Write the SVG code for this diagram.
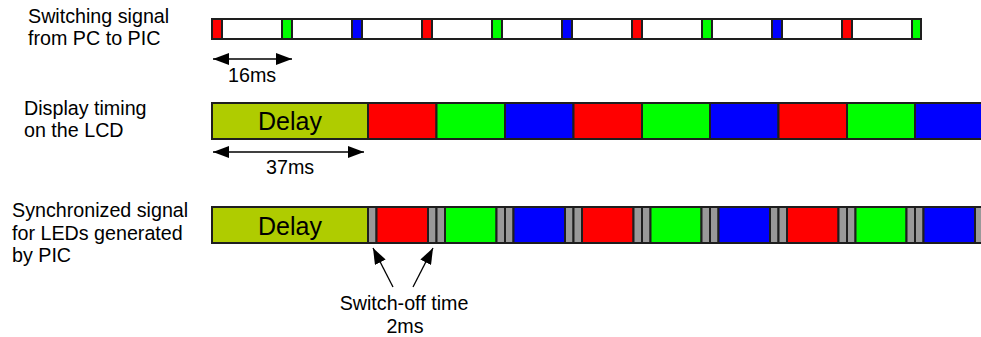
<svg xmlns="http://www.w3.org/2000/svg" width="981" height="337" viewBox="0 0 981 337">
<style>
text{font-family:"Liberation Sans",Arial,sans-serif;fill:#000}
.lbl{font-size:19.7px}
.dl{font-size:25px;text-anchor:middle}
.c{text-anchor:middle}
rect{stroke:#1e1e1e;stroke-width:2}
.w{fill:#fff}.r{fill:#f00}.g{fill:#0f0}.b{fill:#00f}.y{fill:#afcc00}.k{fill:#999}
.ln{stroke:#000;stroke-width:1.3;fill:none}
</style>
<defs>
<marker id="ah" viewBox="0 0 16 12" refX="16" refY="6" markerWidth="16" markerHeight="12" markerUnits="userSpaceOnUse" orient="auto-start-reverse">
<path d="M0,0 L16,6 L0,12 z" fill="#000"/>
</marker>
</defs>
<g id="labels">
<text class="lbl" x="28" y="23">Switching signal</text>
<text class="lbl" x="28" y="45">from PC to PIC</text>
<text class="lbl" x="24" y="115">Display timing</text>
<text class="lbl" x="24" y="137">on the LCD</text>
<text class="lbl" x="12" y="217">Synchronized signal</text>
<text class="lbl" x="12" y="239.5">for LEDs generated</text>
<text class="lbl" x="12" y="262">by PIC</text>
</g>
<g id="switching-signal">
<rect class="w" x="212" y="19" width="709" height="20"/>
<rect class="r" x="212" y="19" width="10" height="20"/>
<rect class="g" x="282" y="19" width="10" height="20"/>
<rect class="b" x="352" y="19" width="10" height="20"/>
<rect class="r" x="422" y="19" width="10" height="20"/>
<rect class="g" x="492" y="19" width="10" height="20"/>
<rect class="b" x="562" y="19" width="10" height="20"/>
<rect class="r" x="632" y="19" width="10" height="20"/>
<rect class="g" x="702" y="19" width="10" height="20"/>
<rect class="b" x="772" y="19" width="10" height="20"/>
<rect class="r" x="842" y="19" width="10" height="20"/>
<rect class="g" x="912" y="19" width="9" height="20"/>
</g>
<g id="display-timing">
<rect class="y" x="212" y="103" width="156" height="36"/>
<text class="dl" x="290" y="130">Delay</text>
<rect class="r" x="368" y="103" width="68.5" height="36"/>
<rect class="g" x="436.5" y="103" width="68.5" height="36"/>
<rect class="b" x="505" y="103" width="68.5" height="36"/>
<rect class="r" x="573.5" y="103" width="68.5" height="36"/>
<rect class="g" x="642" y="103" width="68" height="36"/>
<rect class="b" x="710" y="103" width="68.5" height="36"/>
<rect class="r" x="778.5" y="103" width="68.5" height="36"/>
<rect class="g" x="847" y="103" width="68" height="36"/>
<rect class="b" x="915" y="103" width="70" height="36"/>
</g>
<g id="led-signal">
<rect class="y" x="212" y="207" width="156" height="36"/>
<text class="dl" x="290" y="235">Delay</text>
<rect class="k" x="368" y="207" width="8.5" height="36"/>
<rect class="r" x="376.5" y="207" width="51.5" height="36"/>
<rect class="k" x="428" y="207" width="8.5" height="36"/>
<rect class="k" x="436.5" y="207" width="8.5" height="36"/>
<rect class="g" x="445" y="207" width="51.5" height="36"/>
<rect class="k" x="496.5" y="207" width="8.5" height="36"/>
<rect class="k" x="505" y="207" width="8.5" height="36"/>
<rect class="b" x="513.5" y="207" width="51.5" height="36"/>
<rect class="k" x="565" y="207" width="8.5" height="36"/>
<rect class="k" x="573.5" y="207" width="8.5" height="36"/>
<rect class="r" x="582" y="207" width="51.5" height="36"/>
<rect class="k" x="633.5" y="207" width="8.5" height="36"/>
<rect class="k" x="642" y="207" width="8.5" height="36"/>
<rect class="g" x="650.5" y="207" width="51" height="36"/>
<rect class="k" x="701.5" y="207" width="8.5" height="36"/>
<rect class="k" x="710" y="207" width="8.5" height="36"/>
<rect class="b" x="718.5" y="207" width="51.5" height="36"/>
<rect class="k" x="770" y="207" width="8.5" height="36"/>
<rect class="k" x="778.5" y="207" width="8.5" height="36"/>
<rect class="r" x="787" y="207" width="51.5" height="36"/>
<rect class="k" x="838.5" y="207" width="8.5" height="36"/>
<rect class="k" x="847" y="207" width="8.5" height="36"/>
<rect class="g" x="855.5" y="207" width="51" height="36"/>
<rect class="k" x="906.5" y="207" width="8.5" height="36"/>
<rect class="k" x="915" y="207" width="8.5" height="36"/>
<rect class="b" x="923.5" y="207" width="51.5" height="36"/>
<rect class="k" x="975" y="207" width="8.5" height="36"/>
</g>
<g id="connectors">
<line class="ln" x1="213" y1="59" x2="292" y2="59" marker-start="url(#ah)" marker-end="url(#ah)"/>
<line class="ln" x1="213" y1="152" x2="364" y2="152" marker-start="url(#ah)" marker-end="url(#ah)"/>
<line class="ln" x1="393" y1="287" x2="373" y2="248" marker-end="url(#ah)"/>
<line class="ln" x1="413" y1="287" x2="433" y2="248" marker-end="url(#ah)"/>
</g>
<g id="dimension-labels">
<text class="lbl" x="228" y="82">16ms</text>
<text class="lbl" x="266" y="174">37ms</text>
<text class="lbl c" x="404" y="310">Switch-off time</text>
<text class="lbl c" x="405" y="333">2ms</text>
</g>
</svg>
